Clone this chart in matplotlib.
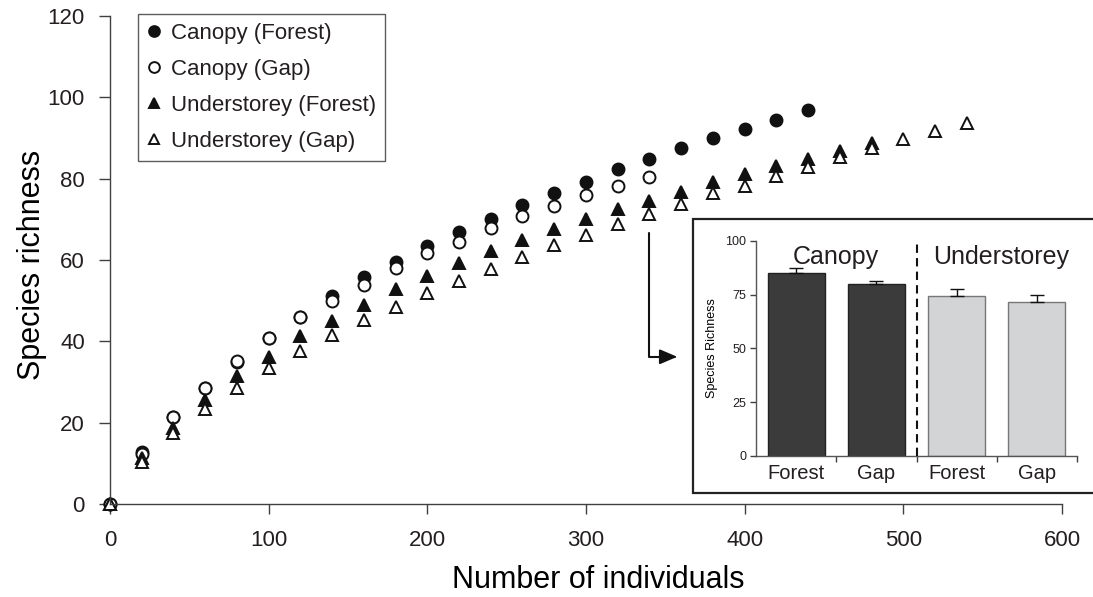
"""Rarefaction curves of species richness, canopy vs understorey, with bar-chart inset"""
import matplotlib
matplotlib.use("Agg")
import matplotlib.pyplot as plt
from matplotlib.patches import Rectangle

# ---- data ----
individuals = [0, 20, 40, 60, 80, 100, 120, 140, 160, 180, 200, 220, 240, 260,
               280, 300, 320, 340, 360, 380, 400, 420, 440, 460, 480, 500, 520, 540]

canopy_forest = [0, 12.8, 21.5, 28.5, 35.0, 40.8, 46.1, 51.2, 55.8, 59.6, 63.5, 66.9,
                 70.2, 73.5, 76.4, 79.2, 82.3, 84.9, 87.5, 90.0, 92.2, 94.4, 96.9]
canopy_gap = [0, 12.2, 21.3, 28.5, 35.2, 40.8, 45.9, 49.9, 53.9, 58.0, 61.8, 64.5,
              67.8, 70.8, 73.4, 76.0, 78.2, 80.4]
under_forest = [0, 11.3, 18.6, 25.6, 31.5, 36.2, 41.2, 45.1, 49.0, 52.8, 56.1, 59.2,
                62.2, 64.9, 67.7, 70.2, 72.5, 74.6, 76.8, 79.1, 81.2, 83.2, 84.9,
                86.9, 88.7]
under_gap = [0, 10.4, 17.4, 23.3, 28.5, 33.4, 37.5, 41.6, 45.3, 48.5, 51.8, 54.9,
             57.7, 60.7, 63.7, 66.2, 68.9, 71.3, 73.8, 76.4, 78.2, 80.7, 82.8,
             85.3, 87.5, 89.7, 91.8, 93.8]

# inset: mean richness at 340 individuals
inset_groups = ["Forest", "Gap", "Forest", "Gap"]
inset_means = [85.0, 80.0, 74.5, 71.5]
inset_err = [2.5, 1.4, 3.1, 3.5]

INK = "#231f20"
plt.rcParams.update({"font.family": ["Liberation Sans", "DejaVu Sans"],
                     "text.color": INK, "xtick.color": "#404040", "ytick.color": "#404040",
                     "xtick.labelcolor": INK, "ytick.labelcolor": INK})

fig = plt.figure(figsize=(10.93, 5.97), dpi=100)
ax = fig.add_axes([0.1006, 0.1558, 0.8710, 0.8174])

mk = dict(ms=8.6, ls="none", clip_on=False, mew=1.4, mec="#111")
series = [("Canopy (Forest)", canopy_forest, "o", "#111"),
          ("Canopy (Gap)", canopy_gap, "o", "white"),
          ("Understorey (Forest)", under_forest, "^", "#111"),
          ("Understorey (Gap)", under_gap, "^", "white")]
for label, ys, m, fc in series:
    ax.plot(individuals[:len(ys)], ys, marker=m, mfc=fc, label=label, **mk)

ax.set_xlim(0, 600); ax.set_ylim(0, 120)
ax.set_xticks(range(0, 601, 100)); ax.set_yticks(range(0, 121, 20))
for s in ("top", "right"):
    ax.spines[s].set_visible(False)
for s in ("left", "bottom"):
    ax.spines[s].set_color("#404040"); ax.spines[s].set_linewidth(1.0)
ax.tick_params(axis="x", length=7, width=1, pad=12, labelsize=16)
ax.tick_params(axis="y", length=8, width=1, pad=10, labelsize=16)
ax.set_xlabel("Number of individuals", fontsize=22)
ax.set_ylabel("Species richness", fontsize=22)
ax.xaxis.set_label_coords(0.513, -0.125)
ax.yaxis.set_label_coords(-0.066, 0.49)

leg = ax.legend(loc="upper left", bbox_to_anchor=(138 / 1093, 1 - 14 / 597),
                bbox_transform=fig.transFigure, fontsize=16, frameon=True, fancybox=False,
                borderaxespad=0, handlelength=0.6, handletextpad=0.5, labelspacing=0.68,
                borderpad=0.4, markerscale=0.9)
leg.get_frame().set_edgecolor("#333"); leg.get_frame().set_linewidth(1.0)

# arrow from the 340-individual points to the inset
ax.annotate("", xy=(357.5, 36.2), xytext=(340, 66.7),
            arrowprops=dict(arrowstyle="-|>,head_length=0.7,head_width=0.3", mutation_scale=15,
                            connectionstyle="angle,angleA=90,angleB=0,rad=0",
                            color="#111", lw=1.5, shrinkA=0, shrinkB=0))

# inset frame
box = Rectangle((693 / 1093, 1 - 493 / 597), 0.4, (493 - 219) / 597, transform=fig.transFigure,
                facecolor="white", edgecolor="#222", lw=1.6, zorder=1)
fig.add_artist(box)

ins = fig.add_axes([0.6917, 0.2362, 0.2937, 0.3606], zorder=2)
ins.patch.set_alpha(0)
pos = list(range(len(inset_means)))
colors = ["#3b3b3b", "#3b3b3b", "#d3d4d6", "#d3d4d6"]
edges = ["#222", "#222", "#777", "#777"]
ins.bar(pos, inset_means, width=0.71, color=colors, edgecolor=edges, lw=1.0, zorder=2)
ins.errorbar(pos, inset_means, yerr=[[0] * 4, inset_err], fmt="none", ecolor="#111",
             elinewidth=1.0, capsize=5, capthick=1.0, zorder=3)
ins.set_xlim(-0.5, 3.5); ins.set_ylim(0, 100)
ins.set_yticks([0, 25, 50, 75, 100])
ins.set_xticks([0.5, 1.5, 2.5, 3.5]); ins.set_xticklabels([])
ins.set_xticks(pos, minor=True); ins.set_xticklabels(inset_groups, minor=True)
ins.tick_params(axis="x", which="major", length=4, width=1, direction="out")
ins.tick_params(axis="x", which="minor", length=0, pad=6, labelsize=14.5)
ins.tick_params(axis="y", length=4, width=1, pad=3, labelsize=9)
for s in ("top", "right"):
    ins.spines[s].set_visible(False)
for s in ("left", "bottom"):
    ins.spines[s].set_color("#555"); ins.spines[s].set_linewidth(1.0)
ins.set_ylabel("Species Richness", fontsize=9, labelpad=5)
ins.plot([1.5, 1.5], [0, 100], ls=(0, (4, 2.5)), color="#111", lw=1.5, clip_on=False, zorder=3)
ins.text(0.5, 92.5, "Canopy", ha="center", va="center", fontsize=18)
ins.text(2.55, 92.5, "Understorey", ha="center", va="center", fontsize=18)

fig.savefig("out.png", dpi=100)
